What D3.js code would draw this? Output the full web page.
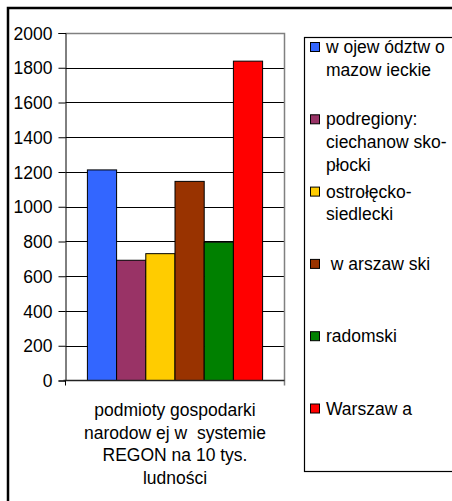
<!DOCTYPE html>
<html>
<head>
<meta charset="utf-8">
<script src="https://cdn.jsdelivr.net/npm/d3@7"></script>
<style>
  body { margin: 0; background: #fff; }
  text { font-family: "Liberation Sans", Arial, sans-serif; fill: #000; white-space: pre; }
</style>
</head>
<body>
<svg id="chart" width="452" height="501"></svg>
<script>
// data
var seriesNames = ["w ojew ództw o|mazow ieckie", "podregiony:|ciechanow sko-|płocki", "ostrołęcko-|siedlecki",
                   " w arszaw ski", "radomski", "Warszaw a"];
var seriesValues = [1212, 692, 730, 1146, 796, 1838];
var seriesColors = ["#3366FF", "#993366", "#FFCC00", "#993300", "#008000", "#FF0000"];
var categoryLabel = ["podmioty gospodarki", "narodow ej w  systemie", "REGON na 10 tys.", "ludności"];
var yTicks = [0, 200, 400, 600, 800, 1000, 1200, 1400, 1600, 1800, 2000];

var svg = d3.select("#chart");

// outer chart border (right/bottom run off the picture)
svg.append("rect")
    .attr("x", 8).attr("y", 8)
    .attr("width", 470).attr("height", 520)
    .attr("fill", "#fff").attr("stroke", "#000").attr("stroke-width", 2.5);

var plot = {left: 65.5, right: 284.5, top: 33, bottom: 380.5};

var y = d3.scaleLinear().domain([0, 2000]).range([plot.bottom, plot.top]);
var gap = (plot.right - plot.left) * 0.1;
var x = d3.scaleBand().domain(d3.range(seriesValues.length))
    .range([plot.left + gap, plot.right - gap]).padding(0);

// gridlines
svg.append("g").selectAll("line").data(yTicks.slice(1, -1)).enter().append("line")
    .attr("x1", plot.left).attr("x2", plot.right)
    .attr("y1", function(d) { return Math.round(y(d)) + 0.5; })
    .attr("y2", function(d) { return Math.round(y(d)) + 0.5; })
    .attr("stroke", "#000").attr("stroke-width", 1);

// plot area frame: top and right gray
svg.append("path")
    .attr("d", "M" + plot.left + "," + (plot.top + 0.5) + "H" + plot.right + "V" + (plot.bottom + 5))
    .attr("fill", "none").attr("stroke", "#808080").attr("stroke-width", 1.5);

// bars
svg.append("g").selectAll("rect").data(seriesValues).enter().append("rect")
    .attr("x", function(d, i) { return x(i); })
    .attr("y", function(d) { return y(d); })
    .attr("width", x.bandwidth())
    .attr("height", function(d) { return y(0) - y(d); })
    .attr("fill", function(d, i) { return seriesColors[i]; })
    .attr("stroke", "#000").attr("stroke-width", 1);

// y axis
var yAxis = d3.axisLeft(y).tickValues(yTicks).tickFormat(d3.format("d")).tickSize(7).tickPadding(6);
var ga = svg.append("g").attr("transform", "translate(" + plot.left + ",0)").call(yAxis);
ga.select(".domain").attr("stroke", "#000");
ga.selectAll(".tick line").attr("stroke", "#000");
ga.selectAll("text").attr("font-size", "17.5px").attr("font-family", "Liberation Sans, Arial, sans-serif")
    .attr("fill", "#000").attr("dy", "0.35em");

// x axis line and end ticks
svg.append("line")
    .attr("x1", plot.left - 2).attr("x2", plot.right)
    .attr("y1", plot.bottom).attr("y2", plot.bottom)
    .attr("stroke", "#222").attr("stroke-width", 1.5);
svg.append("line")
    .attr("x1", plot.left).attr("x2", plot.left)
    .attr("y1", plot.bottom).attr("y2", plot.bottom + 5)
    .attr("stroke", "#000");

// category label
svg.append("g").selectAll("text").data(categoryLabel).enter().append("text")
    .attr("x", (plot.left + plot.right) / 2)
    .attr("y", function(d, i) { return 416 + i * 22.7; })
    .attr("text-anchor", "middle")
    .attr("font-size", "17.5px")
    .text(function(d) { return d; });

// legend
var legend = svg.append("g");
legend.append("rect")
    .attr("x", 304.5).attr("y", 37.5)
    .attr("width", 200).attr("height", 434)
    .attr("fill", "#fff").attr("stroke", "#000").attr("stroke-width", 1.2);

var entry = legend.selectAll("g.entry").data(seriesNames).enter().append("g")
    .attr("class", "entry")
    .attr("transform", function(d, i) { return "translate(0," + (47 + i * 72.3) + ")"; });

entry.append("rect")
    .attr("x", 310.5).attr("y", -4.5)
    .attr("width", 9).attr("height", 9)
    .attr("fill", function(d, i) { return seriesColors[i]; })
    .attr("stroke", "#000").attr("stroke-width", 1);

entry.each(function(d) {
    var g = d3.select(this);
    d.split("|").forEach(function(line, k) {
        g.append("text")
            .attr("x", 326)
            .attr("y", k * 22.7)
            .attr("dy", "0.35em")
            .attr("font-size", "17.5px")
            .text(line);
    });
});
</script>
</body>
</html>
